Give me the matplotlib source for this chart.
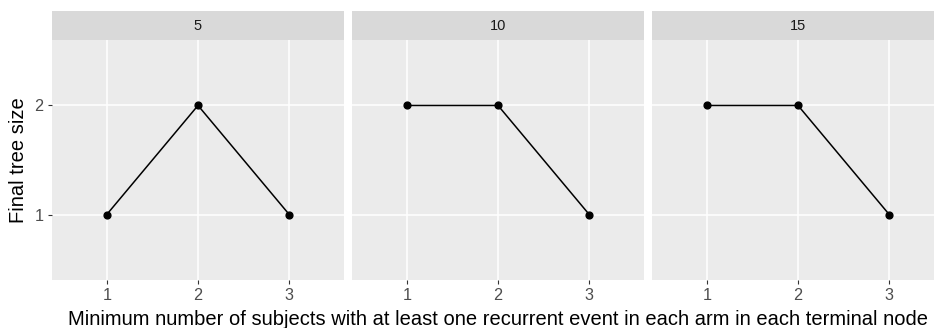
import matplotlib
matplotlib.use("Agg")
import matplotlib.pyplot as plt

plt.rcParams["font.family"] = ["Liberation Sans", "DejaVu Sans"]

panels = ["5", "10", "15"]
min_subjects = [1, 2, 3]
tree_size = {
    "5": [1, 2, 1],
    "10": [2, 2, 1],
    "15": [2, 2, 1],
}

W, H = 934, 328
fig = plt.figure(figsize=(W / 100, H / 100), dpi=100)

def box(x0, y0, x1, y1):
    # pixel box (top-left origin) -> figure fraction rect
    return [x0 / W, 1 - y1 / H, (x1 - x0) / W, (y1 - y0) / H]

for i, name in enumerate(panels):
    left = 52 + i * 300
    ax = fig.add_axes(box(left, 40, left + 292, 280))
    ax.set_facecolor("#EBEBEB")
    ax.plot(min_subjects, tree_size[name], color="black", lw=1.1, zorder=3)
    ax.scatter(min_subjects, tree_size[name], color="black", s=24, zorder=4)
    ax.set_xlim(0.4, 3.6)
    ax.set_ylim(0.4, 2.6)
    ax.set_xticks([1, 2, 3])
    ax.set_yticks([1, 2])
    ax.grid(True, color="white", lw=1.1)
    ax.set_axisbelow(True)
    for s in ax.spines.values():
        s.set_visible(False)
    ax.tick_params(colors="#333333", length=3, width=0.8, labelsize=11.7,
                   labelcolor="#4D4D4D", pad=3)
    if i > 0:
        ax.tick_params(axis="y", left=False, labelleft=False)

    strip = fig.add_axes(box(left, 11, left + 292, 40))
    strip.set_facecolor("#D9D9D9")
    strip.set_xticks([])
    strip.set_yticks([])
    for s in strip.spines.values():
        s.set_visible(False)
    strip.text(0.5, 0.5, name, ha="center", va="center", fontsize=10.5,
               color="#1A1A1A", transform=strip.transAxes)

fig.text(19 / W, 1 - 160 / H, "Final tree size", rotation=90,
         ha="center", va="center", fontsize=14.5)
fig.text(498 / W, 1 - 325 / H,
         "Minimum number of subjects with at least one recurrent event in each arm in each terminal node",
         ha="center", va="baseline", fontsize=14.5)

fig.savefig("out.png", dpi=100)
